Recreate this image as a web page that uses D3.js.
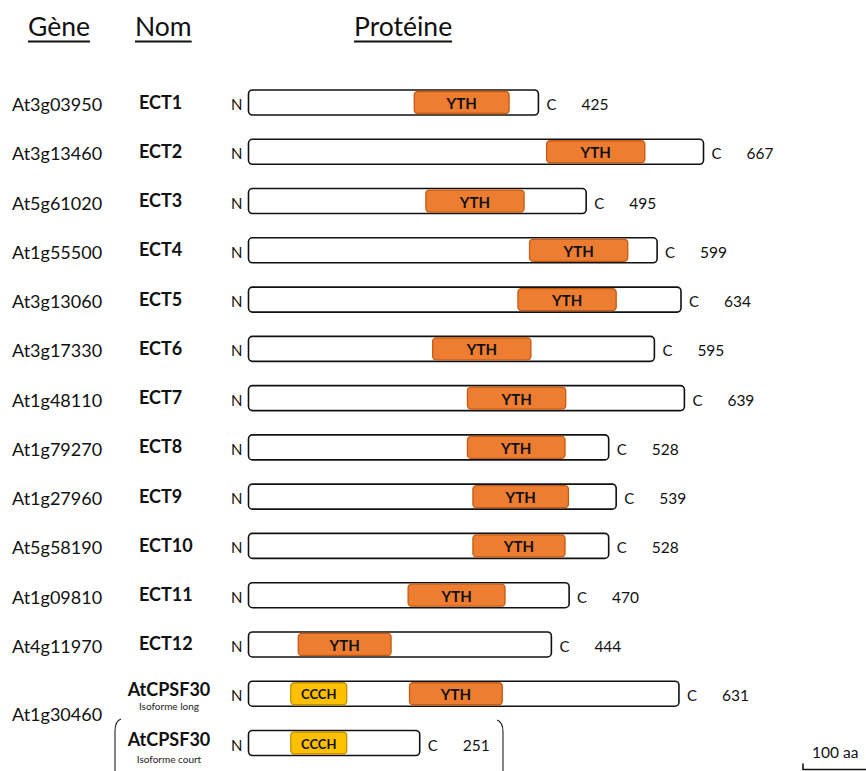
<!DOCTYPE html>
<html>
<head>
<meta charset="utf-8">
<script src="https://cdn.jsdelivr.net/npm/d3@7/dist/d3.min.js"></script>
<style>
  html, body { margin: 0; padding: 0; background: #fff; }
  svg { display: block; font-family: Lato, "Open Sans", sans-serif; }
</style>
</head>
<body>
<div id="chart"></div>
<script>
// Data
const genes = ["At3g03950", "At3g13460", "At5g61020", "At1g55500", "At3g13060", "At3g17330",
  "At1g48110", "At1g79270", "At1g27960", "At5g58190", "At1g09810", "At4g11970", "At1g30460", "At1g30460"];
const names = ["ECT1", "ECT2", "ECT3", "ECT4", "ECT5", "ECT6", "ECT7", "ECT8", "ECT9", "ECT10",
  "ECT11", "ECT12", "AtCPSF30", "AtCPSF30"];
const isoforms = [null, null, null, null, null, null, null, null, null, null, null, null,
  "Isoforme long", "Isoforme court"];
const lengths = [425, 667, 495, 599, 634, 595, 639, 528, 539, 528, 470, 444, 631, 251];
const ythStart = [243, 437, 260, 412, 395, 270, 321, 321, 329, 329, 234, 73, 236, null];
const ythEnd = [382, 581, 404, 556, 539, 414, 465, 464, 469, 464, 376, 209, 372, null];
const ccchRows = [12, 13];
const ccchStart = [62, 62];
const ccchEnd = [144, 144];
const headers = ["Gène", "Nom", "Protéine"];
const scaleBarAa = 100;

const W = 866, H = 771;
const BOX_H = 25;

const svg = d3.select("#chart").append("svg")
  .attr("width", W)
  .attr("height", H);

const x = d3.scaleLinear().domain([0, 667]).range([248.5, 703.5]);
const y = d3.scalePoint().domain(d3.range(lengths.length)).range([102.5, 743]);

// headers
const headerX = [28, 135, 354];
headers.forEach((h, i) => {
  const t = svg.append("text")
    .attr("x", headerX[i]).attr("y", 36)
    .attr("font-size", 26.5)
    .attr("fill", "#111")
    .text(h);
  const w = t.node().getComputedTextLength();
  svg.append("line")
    .attr("x1", headerX[i]).attr("x2", headerX[i] + w)
    .attr("y1", 41.5).attr("y2", 41.5)
    .attr("stroke", "#111").attr("stroke-width", 1.8);
});

const rows = d3.range(lengths.length);

// gene labels (CPSF30 isoforms share one gene label)
svg.selectAll(".gene").data(rows.filter(i => i < 12))
  .join("text").attr("class", "gene")
  .attr("x", 12).attr("y", i => y(i) + 8.5)
  .attr("font-size", 18).attr("fill", "#111")
  .text(i => genes[i]);
svg.append("text")
  .attr("x", 12).attr("y", (y(12) + y(13)) / 2 + 3)
  .attr("font-size", 18).attr("fill", "#111")
  .text(genes[12]);

// names
svg.selectAll(".name").data(rows.filter(i => i < 12))
  .join("text").attr("class", "name")
  .attr("x", 139).attr("y", i => y(i) + 6)
  .attr("font-size", 18).attr("font-weight", "bold").attr("fill", "#111")
  .text(i => names[i]);
const cpsfOffset = { 12: [2.5, 16], 13: [3, 20] };
rows.filter(i => i >= 12).forEach(i => {
  svg.append("text")
    .attr("x", 169).attr("y", y(i) + cpsfOffset[i][0])
    .attr("text-anchor", "middle")
    .attr("font-size", 18).attr("font-weight", "bold").attr("fill", "#111")
    .text(names[i]);
  svg.append("text")
    .attr("x", 169).attr("y", y(i) + cpsfOffset[i][1])
    .attr("text-anchor", "middle")
    .attr("font-size", 10).attr("fill", "#222")
    .text(isoforms[i]);
});

// protein boxes
svg.selectAll(".prot").data(rows)
  .join("rect").attr("class", "prot")
  .attr("x", x(0)).attr("y", i => y(i) - BOX_H / 2)
  .attr("width", i => x(lengths[i]) - x(0)).attr("height", BOX_H)
  .attr("rx", 4)
  .attr("fill", "#fff").attr("stroke", "#111").attr("stroke-width", 1.6);

// N / C / length
svg.selectAll(".nterm").data(rows)
  .join("text").attr("class", "nterm")
  .attr("x", x(0) - 6).attr("y", i => y(i) + 7.5)
  .attr("text-anchor", "end").attr("font-size", 15).attr("fill", "#111")
  .text("N");
svg.selectAll(".cterm").data(rows)
  .join("text").attr("class", "cterm")
  .attr("x", i => x(lengths[i]) + 8).attr("y", i => y(i) + 7.5)
  .attr("font-size", 15).attr("fill", "#111")
  .text("C");
svg.selectAll(".len").data(rows)
  .join("text").attr("class", "len")
  .attr("x", i => x(lengths[i]) + 43).attr("y", i => y(i) + 7.5)
  .attr("font-size", 15.5).attr("fill", "#111")
  .text(i => lengths[i]);

// YTH domains
const ythRows = rows.filter(i => ythStart[i] != null);
svg.selectAll(".yth").data(ythRows)
  .join("rect").attr("class", "yth")
  .attr("x", i => x(ythStart[i])).attr("y", i => y(i) - 11)
  .attr("width", i => x(ythEnd[i]) - x(ythStart[i])).attr("height", 22)
  .attr("rx", 3.5)
  .attr("fill", "#ED7D31").attr("stroke", "#C55A11").attr("stroke-width", 1.3);
svg.selectAll(".ythl").data(ythRows)
  .join("text").attr("class", "ythl")
  .attr("x", i => (x(ythStart[i]) + x(ythEnd[i])) / 2).attr("y", i => y(i) + 6.5)
  .attr("text-anchor", "middle")
  .attr("font-size", 15).attr("font-weight", "bold").attr("fill", "#111")
  .text("YTH");

// CCCH domains
const ccch = ccchRows.map((r, k) => ({ r, s: ccchStart[k], e: ccchEnd[k] }));
svg.selectAll(".ccch").data(ccch)
  .join("rect").attr("class", "ccch")
  .attr("x", d => x(d.s)).attr("y", d => y(d.r) - 11)
  .attr("width", d => x(d.e) - x(d.s)).attr("height", 22)
  .attr("rx", 3.5)
  .attr("fill", "#FFC000").attr("stroke", "#BF9000").attr("stroke-width", 1.3);
svg.selectAll(".ccchl").data(ccch)
  .join("text").attr("class", "ccchl")
  .attr("x", d => (x(d.s) + x(d.e)) / 2).attr("y", d => y(d.r) + 5.5)
  .attr("text-anchor", "middle")
  .attr("font-size", 13).attr("font-weight", "bold").attr("fill", "#111")
  .text("CCCH");

// brackets around the short isoform
const bTop = y(13) - 24;
svg.append("path")
  .attr("d", `M121,${bTop} Q115,${bTop + 2} 115,${bTop + 12} L115,${H + 5}`)
  .attr("fill", "none").attr("stroke", "#222").attr("stroke-width", 1.1);
svg.append("path")
  .attr("d", `M497,${bTop + 1} Q503,${bTop + 3} 503,${bTop + 13} L503,${H + 5}`)
  .attr("fill", "none").attr("stroke", "#222").attr("stroke-width", 1.1);

// scale bar
const sbX = 803, sbY = 769.5;
const sbLen = x(scaleBarAa) - x(0);
svg.append("path")
  .attr("d", `M${sbX},${sbY - 6} L${sbX},${sbY} L${sbX + sbLen},${sbY}`)
  .attr("fill", "none").attr("stroke", "#111").attr("stroke-width", 1.6);
svg.append("text")
  .attr("x", 812).attr("y", 758)
  .attr("font-size", 15.5).attr("fill", "#111")
  .text(scaleBarAa + " aa");
</script>
</body>
</html>
